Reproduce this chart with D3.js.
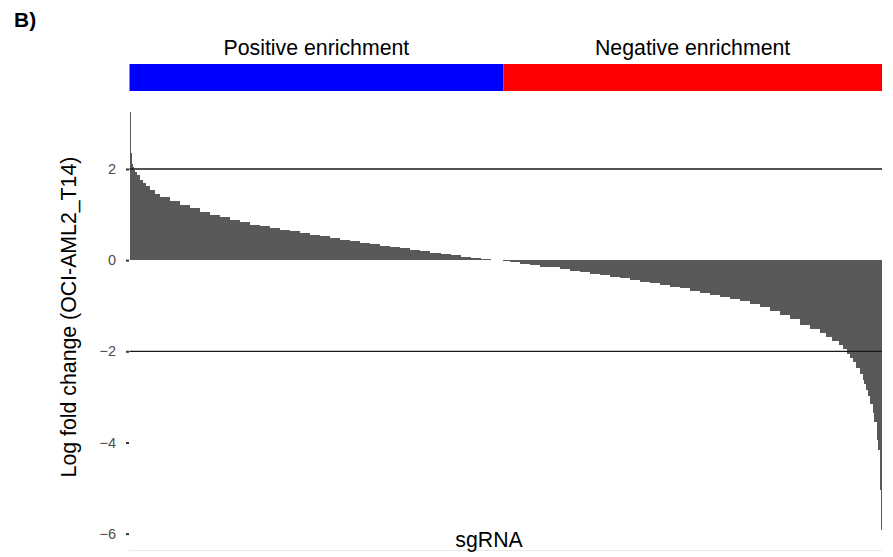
<!DOCTYPE html>
<html>
<head>
<meta charset="utf-8">
<script src="https://cdn.jsdelivr.net/npm/d3@7"></script>
<style>
  body { margin: 0; background: #fff; }
  text { font-family: "Liberation Sans", Arial, sans-serif; }
</style>
</head>
<body>
<div id="chart"></div>
<script>
// sgRNA rank (percent of all guides, left edge of each bar) and log fold change
var rankPct = [0, 0.13, 0.20, 0.33, 0.47, 0.60, 0.73, 1.00, 1.40, 1.80, 2.19, 2.73, 3.39, 4.06, 5.39, 6.72,
	8.04, 9.38, 10.70, 12.03, 13.36, 14.69, 16.02, 17.35, 18.68, 20.01, 21.34, 22.67, 24.00, 25.33, 26.66,
	27.99, 29.32, 30.65, 31.98, 33.31, 34.64, 35.97, 37.30, 38.63, 39.96, 41.29, 42.62, 43.95, 45.28, 46.61,
	47.94, 49.67, 50.60, 51.93, 53.26, 54.59, 55.92, 57.25, 58.58, 59.91, 61.24, 62.57, 63.90, 65.23, 66.56,
	67.89, 69.22, 70.55, 71.88, 73.21, 74.54, 75.86, 77.19, 78.52, 79.85, 81.18, 82.51, 83.84, 85.17, 86.50,
	87.83, 89.16, 90.49, 91.82, 92.62, 93.42, 94.22, 94.88, 95.41, 95.81, 96.21, 96.61, 97.01, 97.41, 97.67,
	97.94, 98.20, 98.47, 98.74, 99.00, 99.27, 99.40, 99.53, 99.67, 99.80, 99.93];
var lfc = [3.24, 2.78, 2.36, 2.12, 2.04, 1.97, 1.93, 1.86, 1.75, 1.69, 1.62, 1.54, 1.46, 1.38, 1.29, 1.22,
	1.14, 1.06, 1.00, 0.94, 0.89, 0.83, 0.78, 0.74, 0.71, 0.67, 0.63, 0.60, 0.56, 0.53, 0.48,
	0.45, 0.42, 0.38, 0.35, 0.32, 0.28, 0.26, 0.23, 0.20, 0.16, 0.13, 0.11, 0.08, 0.05, 0.03,
	0.01, -0.01, -0.04, -0.08, -0.11, -0.14, -0.16, -0.20, -0.23, -0.26, -0.30, -0.33, -0.36, -0.39, -0.43,
	-0.47, -0.50, -0.55, -0.58, -0.62, -0.67, -0.71, -0.76, -0.80, -0.85, -0.90, -0.96, -1.03, -1.12, -1.20,
	-1.30, -1.42, -1.52, -1.60, -1.69, -1.77, -1.86, -1.96, -2.06, -2.15, -2.24, -2.36, -2.50, -2.62, -2.72,
	-2.85, -2.98, -3.15, -3.35, -3.55, -3.77, -3.94, -4.16, -4.49, -5.04, -5.91];

var yTicks = [2, 0, -2, -4, -6];
var cutoffs = [2, -2];

var groups = ["Positive enrichment", "Negative enrichment"];
var groupStart = [0, 49.67];
var groupEnd = [49.67, 100];
var groupColors = ["#0000FF", "#FF0000"];

var width = 893, height = 557;
var panelLeft = 129.5, panelRight = 882, panelTop = 91.5, panelBottom = 550.5;

var svg = d3.select("#chart").append("svg")
	.attr("width", width)
	.attr("height", height);

var xScale = d3.scaleLinear()
	.domain([0, 100])
	.range([panelLeft, panelRight]);

var yScale = d3.scaleLinear()
	.domain([-6.37, 3.70])
	.range([panelBottom, panelTop]);

var bars = rankPct.map(function (r, i) {
	return { start: r, end: i < rankPct.length - 1 ? rankPct[i + 1] : 100, value: lfc[i] };
});

// bottom panel edge
svg.append("line")
	.attr("x1", xScale(0)).attr("x2", xScale(100))
	.attr("y1", panelBottom).attr("y2", panelBottom)
	.attr("stroke", "#ebebeb")
	.attr("stroke-width", 1);

// waterfall bars
svg.append("g").selectAll("rect")
	.data(bars)
	.enter().append("rect")
	.attr("x", function (d) { return xScale(d.start); })
	.attr("width", function (d) { return xScale(d.end) - xScale(d.start) + 0.3; })
	.attr("y", function (d) { return yScale(Math.max(0, d.value)); })
	.attr("height", function (d) { return Math.abs(yScale(d.value) - yScale(0)); })
	.attr("fill", "#595959")
	.attr("shape-rendering", "crispEdges");

// cutoff lines
svg.append("g").selectAll("line")
	.data(cutoffs)
	.enter().append("line")
	.attr("x1", xScale(0)).attr("x2", xScale(100))
	.attr("y1", function (d) { return yScale(d); })
	.attr("y2", function (d) { return yScale(d); })
	.attr("stroke", "#1a1a1a")
	.attr("stroke-width", 1.3);

// y axis: ticks and labels only
var yAxis = svg.append("g")
	.attr("transform", "translate(" + (panelLeft - 0.5) + ",0)")
	.call(d3.axisLeft(yScale).tickValues(yTicks).tickSize(3).tickPadding(10)
		.tickFormat(function (d) { return d3.format("d")(d).replace("-", "\u2212"); }));
yAxis.select(".domain").remove();
yAxis.selectAll(".tick line").attr("stroke", "#333").attr("stroke-width", 2);
yAxis.selectAll(".tick text")
	.attr("fill", "#4d4d4d")
	.style("font-size", "14.5px")
	.style("font-family", "'Liberation Sans', Arial, sans-serif");

// enrichment colour strip
svg.append("g").selectAll("rect")
	.data(groups)
	.enter().append("rect")
	.attr("x", function (d, i) { return xScale(groupStart[i]); })
	.attr("width", function (d, i) { return xScale(groupEnd[i]) - xScale(groupStart[i]); })
	.attr("y", 64)
	.attr("height", 27)
	.attr("fill", function (d, i) { return groupColors[i]; });

svg.append("g").selectAll("text")
	.data(groups)
	.enter().append("text")
	.attr("x", function (d, i) { return (xScale(groupStart[i]) + xScale(groupEnd[i])) / 2; })
	.attr("y", 55)
	.attr("text-anchor", "middle")
	.style("font-size", "21.3px")
	.attr("fill", "#000")
	.text(function (d) { return d; });

// axis titles
svg.append("text")
	.attr("transform", "translate(76,317)rotate(-90)")
	.attr("text-anchor", "middle")
	.style("font-size", "21.3px")
	.text("Log fold change (OCI-AML2_T14)");

svg.append("text")
	.attr("x", 489)
	.attr("y", 547)
	.attr("text-anchor", "middle")
	.style("font-size", "21.3px")
	.text("sgRNA");

svg.append("text")
	.attr("x", 14)
	.attr("y", 27)
	.style("font-size", "21px")
	.style("font-weight", "bold")
	.text("B)");
</script>
</body>
</html>
